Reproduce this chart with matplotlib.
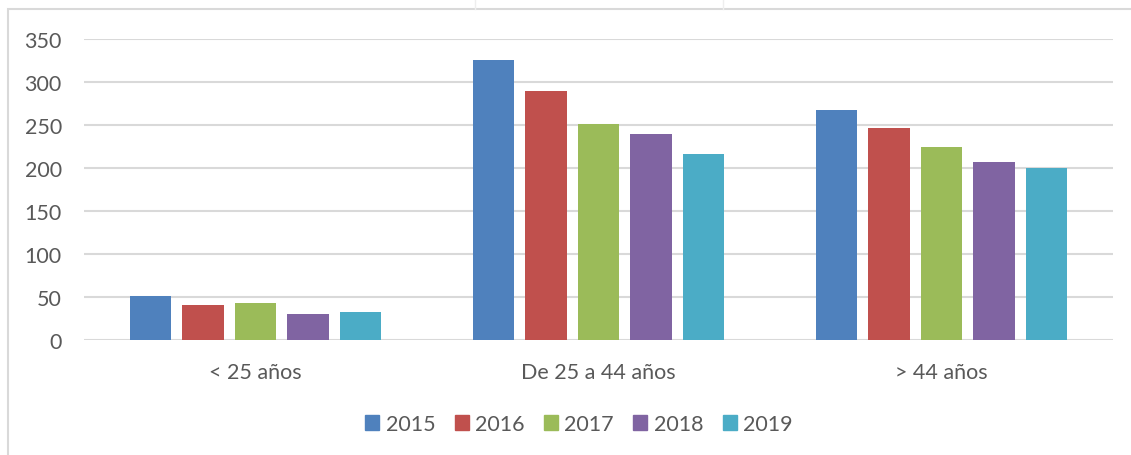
"""Grafico de barras agrupadas por tramo de edad (2015-2019)."""
import matplotlib.pyplot as plt
import numpy as np
from matplotlib.lines import Line2D
from matplotlib.patches import Rectangle

categories = ["< 25 años", "De 25 a 44 años", "> 44 años"]
years = ["2015", "2016", "2017", "2018", "2019"]
v2015 = [51, 326, 268]
v2016 = [41, 289, 247]
v2017 = [43, 251, 225]
v2018 = [30, 240, 207]
v2019 = [33, 216, 200]
series = [v2015, v2016, v2017, v2018, v2019]
colors = ["#4F81BD", "#C0504D", "#9BBB59", "#8064A2", "#4BACC6"]
yticks = [0, 50, 100, 150, 200, 250, 300, 350]

TEXT = "#595959"
GRID = "#D9D9D9"

plt.rcParams["font.family"] = ["Lato", "DejaVu Sans"]

W, H = 1131, 456
fig = plt.figure(figsize=(W / 100, H / 100), dpi=100)
ax = fig.add_axes([84 / W, 1 - 341 / H, (1113 - 84) / W, (341 - 40) / H])

x = np.arange(len(categories))
step = 0.153
width = 0.121
for i, (vals, col, yr) in enumerate(zip(series, colors, years)):
    ax.bar(x + (i - 2) * step, vals, width, color=col, label=yr, zorder=3)

ax.set_xlim(-0.5, len(categories) - 0.5)
ax.set_ylim(0, 350)
ax.set_yticks(yticks)
ax.set_xticks(x)
ax.set_xticklabels(categories)
ax.grid(axis="y", color=GRID, linewidth=1.5, zorder=0)
ax.tick_params(axis="both", length=0, labelsize=15.5, colors=TEXT)
ax.tick_params(axis="x", pad=16)
ax.tick_params(axis="y", pad=16)
for s in ax.spines.values():
    s.set_visible(False)

handles = [Rectangle((0, 0), 1, 1, color=c) for c in colors]
fig.legend(handles, years, loc="center", bbox_to_anchor=(579 / W, 1 - 425 / H),
           ncol=5, frameon=False, fontsize=15.5, labelcolor=TEXT,
           handlelength=0.65, handleheight=0.65, handletextpad=0.3,
           columnspacing=0.9)

# marco exterior del grafico
fig.add_artist(Rectangle((8 / W, -0.05), 1.1, 1 - 10 / H + 0.05,
                         transform=fig.transFigure, fill=False,
                         edgecolor=GRID, linewidth=1.5))
for xp in (475, 723):
    fig.add_artist(Line2D([xp / W, xp / W], [1 - 10 / H, 1], transform=fig.transFigure,
                          color="#EEEEEE", linewidth=1))

fig.savefig("out.png", dpi=100)
